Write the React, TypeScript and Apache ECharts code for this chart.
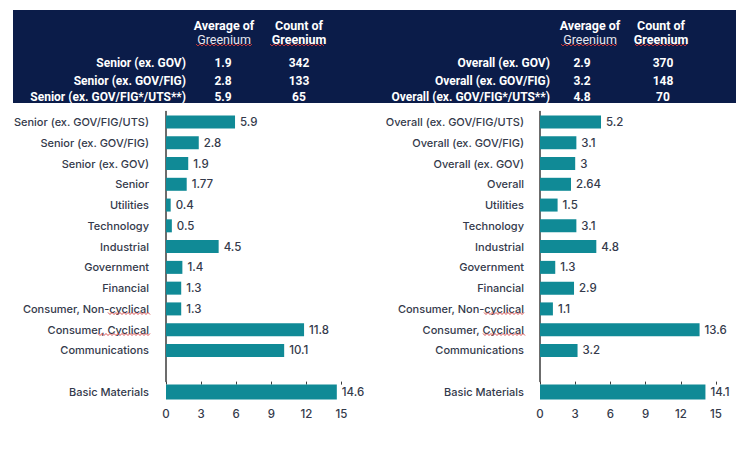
import React, { useEffect, useRef } from "react";
import * as echarts from "echarts";

// ---- data ----
const leftCategories = [
  "Senior (ex. GOV/FIG/UTS)",
  "Senior (ex. GOV/FIG)",
  "Senior (ex. GOV)",
  "Senior",
  "Utilities",
  "Technology",
  "Industrial",
  "Government",
  "Financial",
  "Consumer, Non-cyclical",
  "Consumer, Cyclical",
  "Communications",
];
const leftValues = [5.9, 2.8, 1.9, 1.77, 0.4, 0.5, 4.5, 1.4, 1.3, 1.3, 11.8, 10.1];

const rightCategories = [
  "Overall (ex. GOV/FIG/UTS)",
  "Overall (ex. GOV/FIG)",
  "Overall (ex. GOV)",
  "Overall",
  "Utilities",
  "Technology",
  "Industrial",
  "Government",
  "Financial",
  "Consumer, Non-cyclical",
  "Consumer, Cyclical",
  "Communications",
];
const rightValues = [5.2, 3.1, 3, 2.64, 1.5, 3.1, 4.8, 1.3, 2.9, 1.1, 13.6, 3.2];

const basicCategory = ["Basic Materials"];
const leftBasicValues = [14.6];
const rightBasicValues = [14.1];

const xMin = 0;
const xMax = 15;
const xInterval = 3;

const headerAvgTitle = ["Average of", "Greenium"];
const headerCountTitle = ["Count of", "Greenium"];
const leftHeaderRows = ["Senior (ex. GOV)", "Senior (ex. GOV/FIG)", "Senior (ex. GOV/FIG*/UTS**)"];
const leftHeaderAvg = [1.9, 2.8, 5.9];
const leftHeaderCount = [342, 133, 65];
const rightHeaderRows = ["Overall (ex. GOV)", "Overall (ex. GOV/FIG)", "Overall (ex. GOV/FIG*/UTS**)"];
const rightHeaderAvg = [2.9, 3.2, 4.8];
const rightHeaderCount = [370, 148, 70];

// ---- styles ----
const NAVY = "#0b1c49";
const TEAL = "#108a96";
const LABEL = "#343a4b";
const FONT = "Inter";
const HFONT = "Roboto";

function squiggle(x1: number, x2: number, y: number) {
  const pts: number[][] = [];
  let up = true;
  for (let x = x1; x <= x2; x += 2) {
    pts.push([x, up ? y - 1 : y + 1]);
    up = !up;
  }
  return {
    type: "polyline",
    shape: { points: pts },
    style: { stroke: "#d23a3a", lineWidth: 0.9, fill: "none" },
    silent: true,
    z: 100,
  };
}

function headerTexts(
  rows: string[],
  avg: number[],
  count: number[],
  labelRight: number,
  avgHeadX: number,
  avgValX: number,
  countHeadX: number,
  countValX: number
) {
  const els: any[] = [];
  const rowY = [63, 80.5, 97];
  const base = { fill: "#ffffff", fontFamily: HFONT, fontSize: 12.5, fontWeight: "bold", textVerticalAlign: "middle" };
  els.push({ type: "text", x: avgHeadX, y: 25, style: { ...base, text: headerAvgTitle[0], textAlign: "center" }, z: 50 });
  els.push({ type: "text", x: avgHeadX, y: 39.5, style: { ...base, text: headerAvgTitle[1], fontWeight: "normal", fill: "#e6e8f0", textAlign: "center" }, z: 50 });
  els.push({ type: "text", x: countHeadX, y: 25, style: { ...base, text: headerCountTitle[0], textAlign: "center" }, z: 50 });
  els.push({ type: "text", x: countHeadX, y: 39.5, style: { ...base, text: headerCountTitle[1], textAlign: "center" }, z: 50 });
  rows.forEach((r, i) => {
    els.push({ type: "text", x: labelRight, y: rowY[i], style: { ...base, fontSize: 12, text: r, textAlign: "right" }, z: 50 });
    els.push({ type: "text", x: avgValX, y: rowY[i], style: { ...base, fontSize: 12, text: String(avg[i]), textAlign: "center" }, z: 50 });
    els.push({ type: "text", x: countValX, y: rowY[i], style: { ...base, fontSize: 12, text: String(count[i]), textAlign: "center" }, z: 50 });
  });
  return els;
}

export default function App() {
  const ref = useRef<HTMLDivElement>(null);

  useEffect(() => {
    document.body.style.margin = "0";
    if (!ref.current) return;
    const chart = echarts.init(ref.current, undefined, { renderer: "svg" });

    const slot = 20.77;
    const gridTop = 111.6;
    const topCount = leftCategories.length + 1; // one empty spacer slot
    const topHeight = slot * topCount;
    const bottomTop = gridTop + topHeight;

    const leftX = 166;
    const rightX = 540;
    const plotW = 175.5;

    const grids = [
      { left: leftX, top: gridTop, width: plotW, height: topHeight },
      { left: leftX, top: bottomTop, width: plotW, height: slot },
      { left: rightX, top: gridTop, width: plotW + 0.5, height: topHeight },
      { left: rightX, top: bottomTop, width: plotW + 0.5, height: slot },
    ];

    const xTop = (gi: number) => ({
      type: "value",
      gridIndex: gi,
      min: xMin,
      max: xMax,
      interval: xInterval,
      axisLine: { show: false },
      axisTick: { show: true, length: 3, lineStyle: { color: "#3b3b3b", width: 1 } },
      axisLabel: { show: false },
      splitLine: { show: false },
    });
    const xBottom = (gi: number) => ({
      type: "value",
      gridIndex: gi,
      min: xMin,
      max: xMax,
      interval: xInterval,
      axisLine: { show: false },
      axisTick: { show: false },
      axisLabel: { show: true, color: LABEL, fontFamily: FONT, fontWeight: 500, fontSize: 11.5, margin: 6 },
      splitLine: { show: false },
    });
    const yCat = (gi: number, data: string[], showLine: boolean, margin: number) => ({
      type: "category",
      gridIndex: gi,
      inverse: true,
      data,
      axisLine: { show: showLine, lineStyle: { color: "#3b3b3b", width: 1.5 } },
      axisTick: { show: false },
      axisLabel: { color: LABEL, fontFamily: FONT, fontWeight: 500, fontSize: 11, margin, interval: 0 },
    });

    const barLabel = {
      show: true,
      position: "right",
      distance: 5,
      color: LABEL,
      fontFamily: FONT,
      fontWeight: 500,
      fontSize: 11.5,
      formatter: (p: any) => String(p.value),
    };

    const bar = (xi: number, yi: number, data: (number | null)[], w: number) => ({
      type: "bar",
      xAxisIndex: xi,
      yAxisIndex: yi,
      data,
      barWidth: w,
      itemStyle: { color: TEAL },
      label: barLabel,
    });

    const graphic: any[] = [
      { type: "rect", shape: { x: 13, y: 10, width: 723, height: 93 }, style: { fill: NAVY }, z: 10 },
      ...headerTexts(leftHeaderRows, leftHeaderAvg, leftHeaderCount, 186, 224, 223, 299, 299),
      ...headerTexts(rightHeaderRows, rightHeaderAvg, rightHeaderCount, 550, 590, 582, 661, 663),
      squiggle(196, 252, 45),
      squiggle(270, 325, 45),
      squiggle(561, 618, 45),
      squiggle(635, 687, 45),
      squiggle(108, 151, 313.5),
      squiggle(98, 150, 334.5),
      squiggle(484, 525, 313.5),
      squiggle(483, 525, 334.5),
    ];

    chart.setOption({
      animation: false,
      backgroundColor: "#ffffff",
      textStyle: { fontFamily: FONT },
      grid: grids,
      xAxis: [xTop(0), xBottom(1), xTop(2), xBottom(3)],
      yAxis: [
        yCat(0, [...leftCategories, ""], true, 17),
        yCat(1, basicCategory, false, 17),
        yCat(2, [...rightCategories, ""], true, 16),
        yCat(3, basicCategory, false, 16),
      ],
      series: [
        bar(0, 0, [...leftValues, null], 13),
        bar(1, 1, leftBasicValues, 15),
        bar(2, 2, [...rightValues, null], 13),
        bar(3, 3, rightBasicValues, 15),
      ],
      graphic,
    });

    return () => chart.dispose();
  }, []);

  return <div ref={ref} style={{ width: 756, height: 454 }} />;
}
